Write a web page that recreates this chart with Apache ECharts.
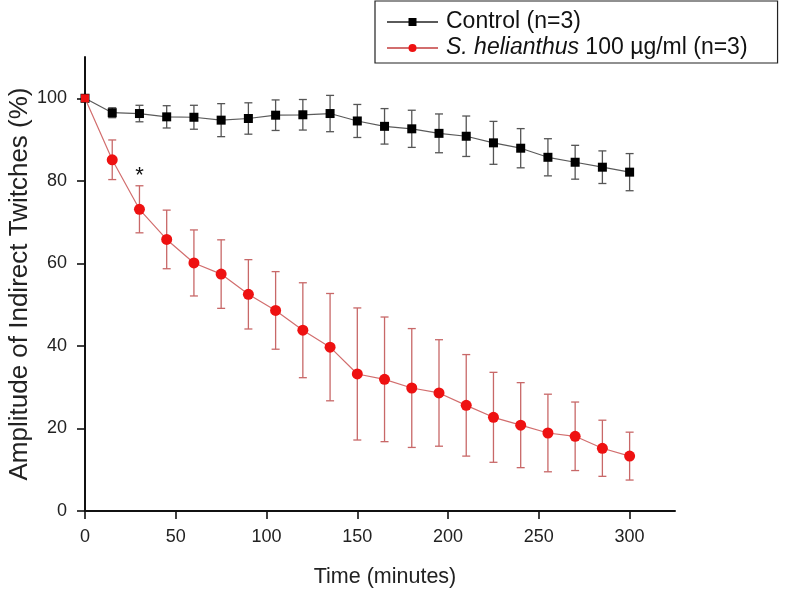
<!DOCTYPE html>
<html>
<head>
<meta charset="utf-8">
<script src="https://cdn.jsdelivr.net/npm/echarts@6/dist/echarts.min.js"></script>
<style>html,body{margin:0;padding:0;background:#fff;}#c{width:787px;height:589px;}</style>
</head>
<body>
<div id="c"></div>
<script>
var timeMin = [0,15,30,45,60,75,90,105,120,135,150,165,180,195,210,225,240,255,270,285,300];
var controlMean = [100,96.5,96.3,95.5,95.4,94.7,95.1,95.9,96.0,96.3,94.5,93.2,92.6,91.5,90.8,89.2,87.9,85.7,84.5,83.3,82.1];
var controlErr  = [0,1.2,2.0,2.7,2.9,4.0,3.8,3.7,3.7,4.4,4.0,4.3,4.5,4.7,4.9,5.2,4.75,4.5,4.1,3.95,4.5];
var sheliMean = [100,85.1,73.1,65.8,60.1,57.4,52.5,48.6,43.8,39.7,33.2,31.9,29.8,28.6,25.6,22.7,20.8,18.9,18.1,15.2,13.3];
var sheliErr  = [0,4.8,5.7,7.1,8.0,8.3,8.4,9.4,11.5,13.0,16.0,15.1,14.4,12.9,12.3,10.9,10.3,9.4,8.3,6.8,5.8];
var xTicks = [0,50,100,150,200,250,300];
var yTicks = [0,20,40,60,80,100];
var seriesNames = ['Control (n=3)', 'S. helianthus 100 \u00b5g/ml (n=3)'];
var starPoint = [30, 81.2];

var FONT = '"Liberation Sans", Arial, sans-serif';
var chart = echarts.init(document.getElementById('c'), null, {renderer:'canvas'});

function pairs(xs, ys){ return xs.map(function(x,i){ return [x, ys[i]]; }); }
function errData(xs, ys, es){
  var out = [];
  xs.forEach(function(x,i){ if (es[i] > 0) out.push([x, ys[i], es[i]]); });
  return out;
}
function errSeries(data, color, z){
  return {
    type:'custom', silent:true, z:z, clip:false,
    encode:{x:0, y:1},
    data:data,
    renderItem:function(params, api){
      var x = api.value(0), m = api.value(1), s = api.value(2);
      var t = api.coord([x, m + s]);
      var b = api.coord([x, m - s]);
      var hw = 4;
      var st = {stroke:color, lineWidth:1.3};
      return {type:'group', children:[
        {type:'line', shape:{x1:t[0], y1:t[1], x2:b[0], y2:b[1]}, style:st},
        {type:'line', shape:{x1:t[0]-hw, y1:t[1], x2:t[0]+hw, y2:t[1]}, style:st},
        {type:'line', shape:{x1:b[0]-hw, y1:b[1], x2:b[0]+hw, y2:b[1]}, style:st}
      ]};
    }
  };
}

var redData = pairs(timeMin, sheliMean).map(function(p, i){
  return i === 0 ? {value:p, symbol:'rect', symbolSize:8} : p;
});

var LFS = 23;
var option = {
  animation:false,
  backgroundColor:'#ffffff',
  textStyle:{fontFamily:FONT},
  grid:{left:85, right:112, top:57, bottom:78, containLabel:false, outerBoundsMode:'none'},
  legend:{
    orient:'vertical', left:375, top:1,
    data:seriesNames,
    padding:[8, 30, 2, 11],
    borderColor:'#222', borderWidth:1.2,
    itemWidth:51, itemHeight:10, itemGap:0,
    textStyle:{fontFamily:FONT, fontSize:LFS, color:'#111', lineHeight:26,
      rich:{
        a:{fontFamily:FONT, fontSize:LFS, color:'#111', lineHeight:26, padding:[0,0,0,3]},
        ia:{fontFamily:FONT, fontSize:LFS, fontStyle:'italic', color:'#111', lineHeight:26, padding:[0,0,0,3]},
        n:{fontFamily:FONT, fontSize:LFS, color:'#111', lineHeight:26}
      }},
    formatter:function(name){
      if (name.indexOf('S. helianthus') === 0) {
        return '{ia|S. helianthus}{n|' + name.slice('S. helianthus'.length) + '}';
      }
      return '{a|' + name + '}';
    }
  },
  xAxis:{
    type:'value', min:0, max:325,
    name:'Time (minutes)', nameLocation:'middle', nameGap:55, nameMoveOverlap:false,
    nameTextStyle:{fontFamily:FONT, fontSize:21.5, color:'#222', padding:[0,0,0,10]},
    axisLine:{show:true, lineStyle:{color:'#111', width:2}},
    axisTick:{show:true, length:8, inside:false, customValues:xTicks, lineStyle:{color:'#111', width:1.6}},
    axisLabel:{customValues:xTicks, margin:17, fontFamily:FONT, fontSize:18, color:'#222'},
    splitLine:{show:false}
  },
  yAxis:{
    type:'value', min:0, max:110,
    name:'Amplitude of Indirect Twitches (%)', nameLocation:'middle', nameGap:52, nameRotate:90, nameMoveOverlap:false,
    nameTextStyle:{fontFamily:FONT, fontSize:26, color:'#222'},
    axisLine:{show:true, lineStyle:{color:'#111', width:2}},
    axisTick:{show:true, length:8, inside:false, customValues:yTicks, lineStyle:{color:'#111', width:1.6}},
    axisLabel:{customValues:yTicks, margin:18, fontFamily:FONT, fontSize:18, color:'#222'},
    splitLine:{show:false}
  },
  series:[
    errSeries(errData(timeMin, controlMean, controlErr), '#555555', 1),
    {
      name:seriesNames[0], type:'line', z:3,
      data:pairs(timeMin, controlMean),
      symbol:'rect', symbolSize:9, showSymbol:true,
      lineStyle:{color:'#5a5a5a', width:1.2},
      itemStyle:{color:'#000000'}
    },
    errSeries(errData(timeMin, sheliMean, sheliErr), '#c86868', 4),
    {
      name:seriesNames[1], type:'line', z:5,
      data:redData,
      symbol:'circle', symbolSize:11, showSymbol:true,
      lineStyle:{color:'#d26e6e', width:1.2},
      itemStyle:{color:'#ee1111'},
      markPoint:{
        symbol:'circle', symbolSize:0, silent:true,
        data:[{coord:starPoint, value:'*'}],
        label:{show:true, position:'inside', formatter:'*', fontFamily:FONT, fontSize:22, color:'#111'}
      }
    }
  ]
};
chart.setOption(option);
</script>
</body>
</html>
